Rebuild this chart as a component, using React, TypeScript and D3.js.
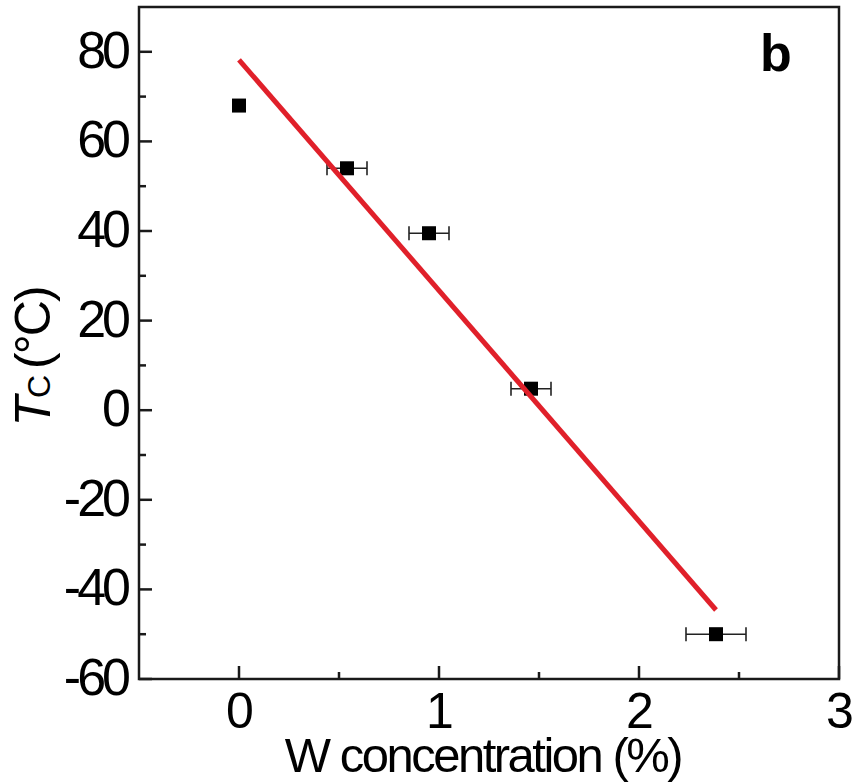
import React from "react";
import * as d3 from "d3";

const xVals = [0, 0.54, 0.95, 1.46, 2.385];
const yVals = [68, 54, 39.5, 4.8, -50];
const xErr = [0, 0.1, 0.1, 0.1, 0.15];
const fitX = [0, 2.385];
const fitY = [78.2, -44.6];
const yTicks = [-60, -40, -20, 0, 20, 40, 60, 80];
const yMinor = [-50, -30, -10, 10, 30, 50, 70, 90];
const xTicks = [0, 1, 2, 3];
const xMinor = [-0.5, 0.5, 1.5, 2.5];

const W = 857, H = 782;
const L = 139, R = 839, T = 7, B = 679;

export default function App() {
  const x = d3.scaleLinear().domain([-0.5, 3]).range([L, R]);
  const y = d3.scaleLinear().domain([-60, 90]).range([B, T]);
  const line = d3.line<number>().x((_, i) => x(fitX[i])).y((d) => y(d));
  const font = "'Liberation Sans', Arial, sans-serif";
  const ax = "#1a1a1a";
  return (
    <svg width={W} height={H} style={{ position: "absolute", left: 0, top: 0, background: "#fff" }} fontFamily={font}>
      <rect x={L} y={T} width={R - L} height={B - T} fill="none" stroke={ax} strokeWidth={2.5} />
      {yTicks.map((t) => (
        <g key={"y" + t}>
          <line x1={L} x2={L + 13} y1={y(t)} y2={y(t)} stroke={ax} strokeWidth={2.5} />
          <text x={127} y={y(t) + 16} textAnchor="end" fontSize={52} letterSpacing={-4} fill="#000">
            {t}
          </text>
        </g>
      ))}
      {yMinor.filter((t) => t < 90).map((t) => (
        <line key={"ym" + t} x1={L} x2={L + 7} y1={y(t)} y2={y(t)} stroke={ax} strokeWidth={2.5} />
      ))}
      {xTicks.map((t) => (
        <g key={"x" + t}>
          <line x1={x(t)} x2={x(t)} y1={B} y2={B - 13} stroke={ax} strokeWidth={2.5} />
          <text x={x(t) + 1} y={728} textAnchor="middle" fontSize={50} fill="#000">
            {t}
          </text>
        </g>
      ))}
      {xMinor.filter((t) => t > -0.5).map((t) => (
        <line key={"xm" + t} x1={x(t)} x2={x(t)} y1={B} y2={B - 7} stroke={ax} strokeWidth={2.5} />
      ))}
      {xVals.map((v, i) =>
        xErr[i] > 0 ? (
          <g key={"e" + i} stroke="#222" strokeWidth={1.6}>
            <line x1={x(v - xErr[i])} x2={x(v + xErr[i])} y1={y(yVals[i])} y2={y(yVals[i])} />
            <line x1={x(v - xErr[i])} x2={x(v - xErr[i])} y1={y(yVals[i]) - 7} y2={y(yVals[i]) + 7} />
            <line x1={x(v + xErr[i])} x2={x(v + xErr[i])} y1={y(yVals[i]) - 7} y2={y(yVals[i]) + 7} />
          </g>
        ) : null
      )}
      {xVals.map((v, i) => (
        <rect key={"p" + i} x={x(v) - 7} y={y(yVals[i]) - 7} width={14} height={14} fill="#000" />
      ))}
      <path d={line(fitY) || ""} fill="none" stroke="#e0202a" strokeWidth={5} />
      <text x={776} y={71} textAnchor="middle" fontSize={52} fontWeight="bold" fill="#000">
        b
      </text>
      <text x={483} y={772} textAnchor="middle" fontSize={49} letterSpacing={-2.5} fill="#000">
        W concentration (%)
      </text>
      <text transform="translate(50,357) rotate(-90)" textAnchor="middle" fontSize={50} fill="#000" letterSpacing={-2}>
        <tspan fontStyle="italic">T</tspan>
        <tspan fontSize={32} dy={0}>C</tspan>
        <tspan dx={8}>(°C)</tspan>
      </text>
    </svg>
  );
}
